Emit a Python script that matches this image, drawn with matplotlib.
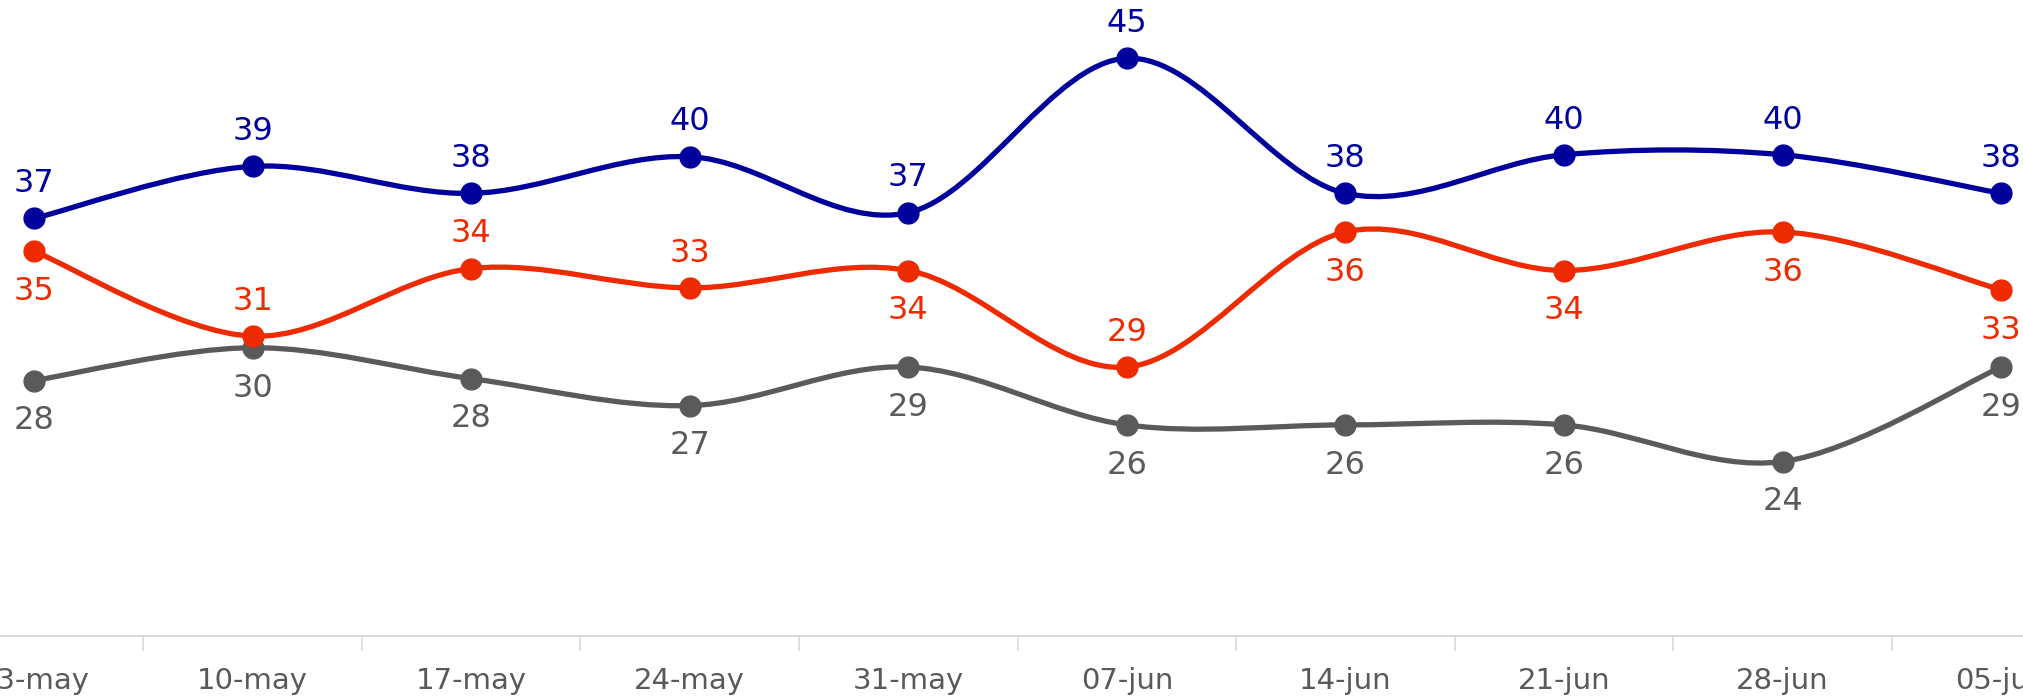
import numpy as np
import matplotlib.pyplot as plt
from matplotlib.path import Path
from matplotlib.patches import PathPatch
from matplotlib.ticker import FixedLocator

weeks = ['03-may', '10-may', '17-may', '24-may', '31-may',
         '07-jun', '14-jun', '21-jun', '28-jun', '05-jun']
blue = [36.7, 39.4, 38.0, 39.9, 37.0, 45.0, 38.0, 40.0, 40.0, 38.0]
red = [35.0, 30.6, 34.1, 33.1, 34.0, 29.0, 36.0, 34.0, 36.0, 33.0]
grey = [28.3, 30.0, 28.4, 27.0, 29.0, 26.0, 26.0, 26.0, 24.1, 29.0]
# where the red labels sit relative to the point
red_side = ['below', 'above', 'above', 'above', 'below',
            'above', 'below', 'below', 'below', 'below']

c_blue = '#00009c'
c_red = '#ee2a00'
c_grey = '#5a5a5a'


def smooth_path(xs, ys):
    # catmull-rom style curve through the points, as bezier segments
    verts = [(xs[0], ys[0])]
    codes = [Path.MOVETO]
    n = len(xs)
    for i in range(n - 1):
        a = max(i - 1, 0)
        d = min(i + 2, n - 1)
        c1 = (xs[i] + (xs[i + 1] - xs[a]) / 6, ys[i] + (ys[i + 1] - ys[a]) / 6)
        c2 = (xs[i + 1] - (xs[d] - xs[i]) / 6, ys[i + 1] - (ys[d] - ys[i]) / 6)
        verts += [c1, c2, (xs[i + 1], ys[i + 1])]
        codes += [Path.CURVE4] * 3
    return Path(verts, codes)


fig = plt.figure(figsize=(20.23, 6.97), dpi=100)
ax = fig.add_axes([0, 0.0875, 1, 0.9125])
x = np.arange(len(weeks))

for vals, color, sides in [(grey, c_grey, ['below'] * len(weeks)),
                           (red, c_red, red_side),
                           (blue, c_blue, ['above'] * len(weeks))]:
    ax.add_patch(PathPatch(smooth_path(x, vals), fill=False, edgecolor=color,
                           lw=3.8, capstyle='round'))
    ax.plot(x, vals, 'o', ms=15, color=color, zorder=3)
    for xi, v, s in zip(x, vals, sides):
        dy = 25 if s == 'above' else -29
        ax.annotate(f'{round(v)}', (xi, v), xytext=(0, dy),
                    textcoords='offset points', ha='center', va='center',
                    fontsize=23, color=color, annotation_clip=False)

ax.set_xlim(-0.1555, 9.10)
ax.set_ylim(15.06, 48.02)

for s in ['left', 'right', 'top']:
    ax.spines[s].set_visible(False)
ax.spines['bottom'].set_color('#d9d9d9')
ax.spines['bottom'].set_linewidth(1.6)
ax.set_yticks([])

ax.set_xticks(x)
ax.set_xticklabels(weeks)
ax.xaxis.set_minor_locator(FixedLocator(x[:-1] + 0.5))
ax.tick_params(axis='x', which='major', length=0, pad=22,
               labelsize=21, labelcolor='#595959')
ax.tick_params(axis='x', which='minor', length=11, width=1.1,
               color='#d9d9d9')

fig.savefig('out.png', dpi=100)
